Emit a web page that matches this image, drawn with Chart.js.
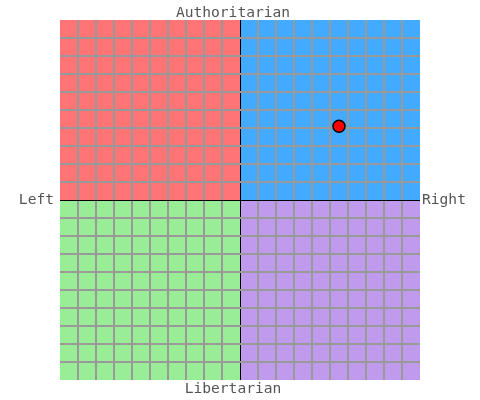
<!DOCTYPE html>
<html>
<head>
<meta charset="utf-8">
<script src="https://cdn.jsdelivr.net/npm/chart.js@4.4.1/dist/chart.umd.min.js"></script>
<style>
  html, body { margin: 0; padding: 0; background: #fff; }
  #wrap { width: 480px; height: 400px; }
</style>
</head>
<body>
<div id="wrap"><canvas id="compass" width="480" height="400"></canvas></div>
<script>
// ---- data ----
const axisMin = -10;
const axisMax = 10;
const pointX = [5.5];
const pointY = [4.1];
// quadrant order: top-left, top-right, bottom-left, bottom-right
const quadrantColors = ["#FF7575", "#42AAFF", "#9AED97", "#C09AEC"];
const axisLabels = { top: "Authoritarian", bottom: "Libertarian", left: "Left", right: "Right" };

const labelFont = "14.6px 'DejaVu Sans Mono', monospace";

// fond des quatre quadrants, calé sur les échelles
const quadrantPlugin = {
    id: "quadrants",
    beforeDraw(chart) {
        const { ctx, scales } = chart;
        const x = scales.x, y = scales.y;
        const x0 = x.getPixelForValue(axisMin), xm = x.getPixelForValue(0), x1 = x.getPixelForValue(axisMax);
        const y0 = y.getPixelForValue(axisMax), ym = y.getPixelForValue(0), y1 = y.getPixelForValue(axisMin);
        ctx.save();
        ctx.fillStyle = quadrantColors[0]; ctx.fillRect(x0, y0, xm - x0, ym - y0);
        ctx.fillStyle = quadrantColors[1]; ctx.fillRect(xm, y0, x1 - xm, ym - y0);
        ctx.fillStyle = quadrantColors[2]; ctx.fillRect(x0, ym, xm - x0, y1 - ym);
        ctx.fillStyle = quadrantColors[3]; ctx.fillRect(xm, ym, x1 - xm, y1 - ym);
        ctx.restore();
    }
};

// libellés des quatre bords
const labelPlugin = {
    id: "edgeLabels",
    afterDraw(chart) {
        const { ctx, chartArea } = chart;
        // le texte d'origine est légèrement décalé vers la gauche
        const cx = (chartArea.left + chartArea.right) / 2 - 7;
        const cy = (chartArea.top + chartArea.bottom) / 2;
        ctx.save();
        ctx.font = labelFont;
        ctx.fillStyle = "#555";
        ctx.textBaseline = "middle";
        ctx.textAlign = "center";
        ctx.fillText(axisLabels.top, cx, chartArea.top - 7);
        ctx.fillText(axisLabels.bottom, cx, chartArea.bottom + 9);
        ctx.textAlign = "right";
        ctx.fillText(axisLabels.left, chartArea.left - 6, cy);
        ctx.textAlign = "left";
        ctx.fillText(axisLabels.right, chartArea.right + 2, cy);
        ctx.restore();
    }
};

function gridColor(c) {
    const v = c.tick ? c.tick.value : null;
    if (v === 0) return "#000";
    if (v === axisMin || v === axisMax) return "rgba(0,0,0,0)";
    return "#999";
}
function gridWidth(c) {
    return c.tick && c.tick.value === 0 ? 1 : 2;
}

const scaleBase = {
    type: "linear",
    min: axisMin,
    max: axisMax,
    ticks: { display: false, stepSize: 1 },
    border: { display: false },
    grid: { color: gridColor, lineWidth: gridWidth, drawTicks: false }
};

new Chart(document.getElementById("compass"), {
    type: "scatter",
    data: {
        datasets: [{
            data: pointX.map((v, i) => ({ x: v, y: pointY[i] })),
            backgroundColor: "#FF0000",
            borderColor: "#000",
            borderWidth: 1.5,
            pointRadius: 6
        }]
    },
    options: {
        responsive: false,
        animation: false,
        layout: { padding: { left: 60, right: 60, top: 20, bottom: 20 } },
        plugins: { legend: { display: false }, tooltip: { enabled: false } },
        scales: {
            x: Object.assign({}, scaleBase, { position: "bottom" }),
            y: Object.assign({}, scaleBase, { position: "left" })
        }
    },
    plugins: [quadrantPlugin, labelPlugin]
});
</script>
</body>
</html>
